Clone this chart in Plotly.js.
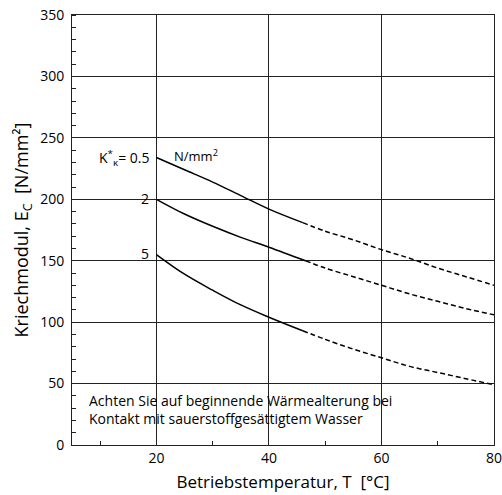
<!DOCTYPE html>
<html><head><meta charset="utf-8">
<script src="https://cdn.plot.ly/plotly-3.0.1.min.js"></script>
<style>html,body{margin:0;padding:0;background:#fff}#chart{width:502px;height:495px}</style>
</head><body><div id="chart"></div>
<script>
// K*_K = 0.5 N/mm²
const tSolid05 = [20, 25, 30, 35, 40, 46];
const eSolid05 = [234, 224, 214, 203, 192, 181];
const tDash05 = [46, 50, 55, 60, 65, 70, 75, 80];
const eDash05 = [181, 174, 167, 159, 152, 144, 137, 130];
// K*_K = 2
const tSolid2 = [20, 25, 30, 35, 40, 46.5];
const eSolid2 = [200, 188, 178, 169, 161, 150];
const tDash2 = [46.5, 50, 55, 60, 65, 70, 75, 80];
const eDash2 = [150, 144, 137, 130, 123, 117, 111, 106];
// K*_K = 5
const tSolid5 = [20, 25, 30, 35, 40, 46];
const eSolid5 = [155, 139, 126, 114, 104, 93];
const tDash5 = [46, 50, 55, 60, 65, 70, 75, 80];
const eDash5 = [93, 86, 78, 71, 64, 59, 54, 49];

const xTicks = [20, 40, 60, 80];
const yTicks = [0, 50, 100, 150, 200, 250, 300, 350];

const FONT = 'Open Sans, Noto Sans, sans-serif';
const solid = {color: '#000', width: 1.5, shape: 'spline', smoothing: 1};
const dashed = {color: '#000', width: 1.5, dash: '5px,3px', shape: 'spline', smoothing: 1};
function tr(x, y, line) { return {x: x, y: y, type: 'scatter', mode: 'lines', line: line, hoverinfo: 'skip', showlegend: false}; }

const data = [
  tr(tSolid05, eSolid05, solid), tr(tDash05, eDash05, dashed),
  tr(tSolid2, eSolid2, solid), tr(tDash2, eDash2, dashed),
  tr(tSolid5, eSolid5, solid), tr(tDash5, eDash5, dashed)
];

const layout = {
  width: 502, height: 495,
  margin: {l: 72, r: 8, t: 15, b: 50},
  paper_bgcolor: '#fff', plot_bgcolor: '#fff',
  font: {family: FONT, color: '#000', size: 14},
  xaxis: {
    range: [5, 80], tickvals: xTicks, ticktext: xTicks.map(String),
    showgrid: true, gridcolor: '#222', gridwidth: 1,
    showline: true, mirror: true, linecolor: '#222', linewidth: 1,
    ticks: '', zeroline: false, ticklabeloverflow: 'allow',
    minor: {dtick: 10, tick0: 0, ticks: 'inside', ticklen: 4, tickcolor: '#222', showgrid: false},
    tickfont: {size: 14, family: FONT},
    title: {text: 'Betriebstemperatur, T  [°C]', font: {size: 17, family: FONT}, standoff: 10}
  },
  yaxis: {
    range: [0, 350], tickvals: yTicks, ticktext: yTicks.map(String),
    showgrid: true, gridcolor: '#222', gridwidth: 1,
    showline: true, mirror: true, linecolor: '#222', linewidth: 1,
    ticks: '', zeroline: false, ticklabelstandoff: 4,
    minor: {dtick: 10, tick0: 0, ticks: 'inside', ticklen: 4, tickcolor: '#222', showgrid: false},
    tickfont: {size: 14, family: FONT},
    title: {text: 'Kriechmodul, E<sub>C</sub>  [N/mm²]', font: {size: 18, family: FONT}, standoff: 6}
  },
  annotations: [
    {x: 19, y: 234, xref: 'x', yref: 'y', xanchor: 'right', yanchor: 'middle', showarrow: false,
     text: 'K<sup>*</sup><sub>κ</sub>= 0.5', font: {size: 14}},
    {x: 22.8, y: 236, xref: 'x', yref: 'y', xanchor: 'left', yanchor: 'middle', showarrow: false,
     text: 'N/mm<sup>2</sup>', font: {size: 13}},
    {x: 19, y: 201, xref: 'x', yref: 'y', xanchor: 'right', yanchor: 'middle', showarrow: false,
     text: '2', font: {size: 14}},
    {x: 19, y: 156, xref: 'x', yref: 'y', xanchor: 'right', yanchor: 'middle', showarrow: false,
     text: '5', font: {size: 14}},
    {x: 7.7, y: 28.5, xref: 'x', yref: 'y', xanchor: 'left', yanchor: 'middle', showarrow: false, align: 'left',
     text: 'Achten Sie auf beginnende Wärmealterung bei<br>Kontakt mit sauerstoffgesättigtem Wasser', font: {size: 14}}
  ]
};

Plotly.newPlot('chart', data, layout, {displayModeBar: false, staticPlot: true});
</script></body></html>
